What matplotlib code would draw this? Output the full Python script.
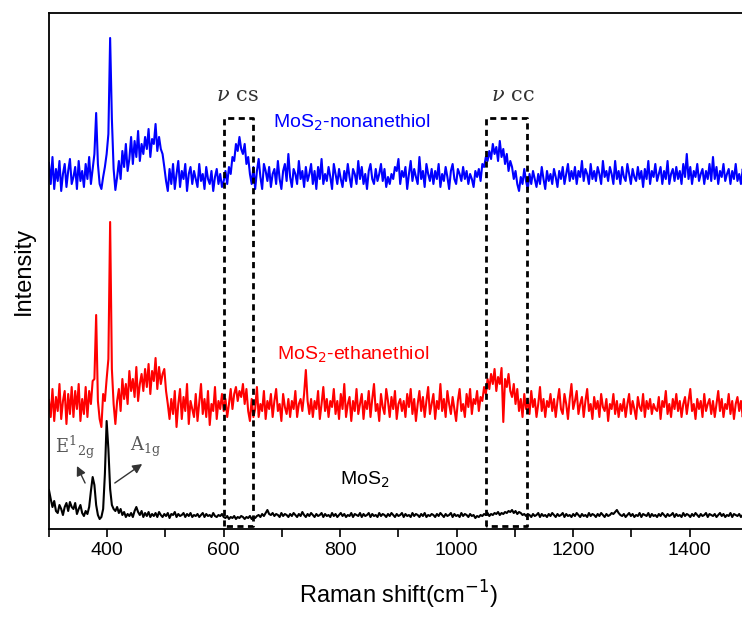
import numpy as np
import matplotlib.pyplot as plt
from matplotlib.ticker import MultipleLocator

# Raman shift axis (cm^-1), one point every 3 cm^-1
shift = np.arange(300, 1501, 3)

# intensities (arb. units, traces already offset)
mos2 = [
    39, 30, 22, 28, 18, 16, 24, 20, 14, 22, 26, 18, 27, 22, 20, 26, 15, 20, 24, 16,
    13, 18, 15, 22, 38, 52, 44, 24, 14, 10, 12, 20, 55, 108, 80, 40, 24, 20, 18, 22,
    16, 20, 14, 17, 12, 15, 13, 16, 12, 18, 22, 17, 14, 18, 12, 16, 13, 17, 12, 15,
    13, 16, 12, 17, 14, 12, 15, 13, 16, 11, 15, 14, 17, 12, 15, 13, 14, 16, 12, 15,
    13, 16, 12, 14, 13, 15, 12, 14, 16, 12, 15, 13, 14, 12, 16, 13, 12, 14, 13, 15,
    12, 11, 13, 10, 12, 11, 13, 10, 12, 11, 13, 12, 10, 12, 11, 13, 10, 12, 11, 13,
    14, 12, 15, 13, 16, 19, 15, 14, 16, 13, 15, 14, 12, 16, 13, 15, 14, 12, 15, 13,
    16, 14, 12, 15, 13, 17, 14, 12, 15, 13, 16, 14, 12, 15, 13, 14, 16, 12, 15, 13,
    14, 12, 16, 13, 15, 12, 14, 16, 13, 15, 12, 14, 13, 16, 12, 15, 14, 13, 16, 12,
    15, 13, 14, 16, 12, 15, 13, 14, 12, 16, 13, 15, 14, 12, 15, 13, 16, 14, 12, 15,
    13, 14, 16, 12, 15, 13, 14, 12, 16, 13, 15, 14, 12, 15, 13, 16, 12, 14, 13, 15,
    14, 12, 15, 13, 16, 14, 12, 15, 13, 14, 16, 12, 15, 13, 14, 12, 16, 13, 15, 14,
    12, 15, 13, 14, 11, 13, 12, 14, 13, 15, 14, 16, 13, 15, 14, 16, 15, 17, 14, 16,
    15, 17, 16, 18, 17, 19, 16, 18, 15, 17, 16, 14, 15, 13, 15, 14, 12, 15, 13, 14,
    16, 12, 15, 13, 14, 12, 15, 13, 16, 14, 12, 15, 13, 14, 16, 12, 15, 13, 14, 12,
    15, 13, 16, 14, 12, 15, 13, 14, 12, 16, 13, 15, 14, 12, 15, 13, 16, 14, 12, 15,
    13, 14, 16, 15, 17, 19, 16, 14, 13, 15, 12, 14, 16, 13, 15, 12, 14, 13, 16, 12,
    15, 14, 13, 16, 12, 15, 13, 14, 12, 15, 13, 16, 14, 12, 15, 13, 14, 16, 12, 15,
    13, 14, 12, 16, 13, 15, 14, 12, 15, 13, 16, 14, 12, 15, 13, 14, 16, 12, 15, 14,
    13, 15, 12, 14, 16, 13, 15, 12, 14, 13, 16, 12, 15, 14, 13, 15, 12, 14, 16, 13,
    14,
]
ethanethiol = [
    129, 112, 140, 108, 132, 118, 145, 110, 128, 138, 105, 135, 115, 142, 112, 138, 120, 145, 108, 130,
    115, 142, 112, 138, 125, 148, 150, 214, 128, 110, 102, 135, 128, 150, 170, 307, 160, 125, 105, 128,
    140, 118, 150, 130, 145, 125, 158, 138, 150, 132, 162, 128, 145, 155, 138, 160, 142, 165, 135, 158,
    148, 171, 140, 162, 145, 155, 160, 138, 125, 110, 130, 115, 138, 102, 125, 140, 110, 132, 118, 145,
    105, 128, 120, 112, 135, 108, 126, 145, 115, 130, 112, 138, 104, 125, 118, 142, 110, 128, 120, 135,
    118, 130, 112, 125, 140, 120, 135, 142, 128, 138, 132, 145, 125, 140, 118, 108, 130, 112, 120, 142,
    112, 125, 118, 138, 110, 128, 120, 135, 112, 128, 140, 118, 125, 108, 135, 122, 115, 130, 112, 128,
    120, 138, 112, 125, 130, 118, 135, 159, 128, 115, 130, 112, 128, 120, 138, 110, 125, 142, 118, 130,
    112, 128, 122, 140, 115, 128, 110, 135, 120, 145, 112, 125, 132, 108, 128, 118, 140, 115, 125, 135,
    110, 128, 120, 138, 112, 130, 145, 118, 125, 108, 135, 122, 115, 140, 128, 112, 132, 120, 138, 110,
    125, 130, 118, 128, 112, 135, 122, 140, 115, 130, 108, 125, 138, 118, 132, 112, 128, 142, 115, 125,
    135, 110, 128, 120, 145, 118, 130, 112, 138, 125, 115, 132, 120, 108, 128, 140, 118, 125, 112, 135,
    122, 140, 115, 130, 125, 138, 118, 132, 128, 142, 135, 150, 140, 155, 145, 160, 138, 152, 145, 161,
    107, 150, 142, 155, 138, 132, 145, 125, 140, 118, 130, 112, 135, 120, 128, 115, 138, 122, 130, 112,
    125, 142, 118, 130, 112, 128, 122, 135, 118, 130, 112, 128, 140, 120, 115, 135, 125, 110, 130, 145,
    120, 128, 138, 115, 125, 132, 112, 128, 140, 118, 125, 110, 132, 120, 128, 112, 135, 122, 118, 130,
    108, 125, 120, 135, 115, 128, 112, 125, 118, 130, 112, 125, 135, 115, 128, 120, 110, 132, 122, 118,
    135, 112, 128, 120, 130, 115, 125, 120, 118, 132, 110, 128, 122, 138, 115, 125, 112, 130, 120, 135,
    118, 128, 112, 125, 132, 115, 128, 140, 118, 125, 110, 130, 120, 128, 112, 135, 118, 125, 130, 115,
    128, 112, 125, 138, 118, 130, 112, 125, 120, 135, 115, 128, 110, 125, 132, 118, 128, 112, 125, 120,
    118,
]
nonanethiol = [
    366, 345, 372, 340, 360, 348, 368, 338, 355, 365, 342, 358, 370, 345, 352, 362, 340, 368, 348, 358,
    342, 365, 350, 372, 345, 360, 375, 416, 365, 345, 340, 352, 362, 375, 395, 491, 410, 360, 339, 352,
    368, 350, 378, 362, 385, 358, 370, 392, 365, 388, 372, 398, 368, 385, 375, 392, 380, 400, 372, 390,
    385, 405, 378, 392, 380, 375, 362, 348, 338, 360, 345, 365, 340, 355, 368, 342, 358, 350, 365, 338,
    355, 362, 345, 358, 350, 342, 365, 348, 355, 340, 362, 350, 345, 358, 338, 352, 360, 345, 355, 342,
    348, 358, 345, 362, 355, 372, 368, 385, 378, 392, 380, 375, 385, 365, 372, 355, 345, 362, 340, 358,
    370, 352, 340, 365, 358, 348, 362, 342, 355, 360, 345, 368, 350, 340, 358, 365, 348, 375, 352, 342,
    360, 355, 345, 368, 350, 358, 342, 362, 348, 355, 365, 345, 358, 340, 362, 350, 370, 345, 355, 348,
    362, 352, 340, 365, 355, 345, 360, 350, 342, 358, 348, 365, 352, 342, 360, 355, 345, 368, 350, 362,
    345, 355, 340, 358, 365, 350, 345, 360, 348, 355, 365, 348, 360, 342, 352, 345, 355, 350, 362, 358,
    370, 345, 358, 352, 362, 340, 355, 368, 348, 360, 352, 345, 372, 350, 358, 342, 365, 355, 348, 360,
    345, 358, 350, 365, 342, 355, 348, 362, 352, 340, 358, 365, 350, 345, 360, 355, 348, 362, 350, 358,
    345, 355, 350, 342, 358, 352, 360, 348, 365, 362, 372, 368, 378, 370, 385, 375, 382, 368, 388, 372,
    380, 365, 375, 358, 368, 362, 350, 358, 345, 338, 352, 345, 360, 348, 340, 355, 345, 358, 350, 342,
    355, 345, 362, 350, 340, 358, 348, 355, 345, 360, 352, 342, 358, 350, 362, 345, 355, 365, 348, 358,
    350, 362, 345, 358, 352, 368, 348, 360, 355, 345, 365, 350, 358, 348, 362, 355, 345, 368, 352, 358,
    348, 362, 355, 345, 368, 350, 358, 345, 362, 352, 348, 365, 355, 345, 360, 352, 348, 362, 350, 358,
    342, 360, 350, 368, 345, 358, 352, 365, 348, 355, 362, 345, 358, 350, 368, 345, 355, 360, 348, 362,
    350, 358, 345, 365, 352, 375, 350, 362, 345, 358, 352, 365, 348, 355, 360, 345, 358, 350, 365, 348,
    372, 350, 362, 345, 358, 352, 365, 348, 355, 360, 345, 358, 350, 365, 348, 355, 345, 360, 352, 350,
    355,
]
assert len(mos2) == len(ethanethiol) == len(nonanethiol) == len(shift)

# dashed boxes marking the C-S and C-C bands
box_cs = (600, 650)
box_cc = (1050, 1120)

plt.rcParams["font.family"] = ["Liberation Sans", "DejaVu Sans"]

fig = plt.figure(figsize=(7.42, 6.18), dpi=100)
ax = fig.add_axes([0.066, 0.144, 0.942, 0.835])

ax.plot(shift, nonanethiol, color="#0000ff", lw=1.5)
ax.plot(shift, ethanethiol, color="#ff0000", lw=1.5)
ax.plot(shift, mos2, color="black", lw=1.5)

for lo, hi in (box_cs, box_cc):
    ax.plot([lo, lo, hi, hi, lo], [3, 411, 411, 3, 3], color="black",
            lw=2, ls=(0, (2.2, 1.6)))

ax.text(624, 433, r"$\nu$ cs", fontsize=15, color="#333333", family="DejaVu Serif",
        math_fontfamily="dejavuserif", ha="center", va="center")
ax.text(1097, 433, r"$\nu$ cc", fontsize=15, color="#333333", family="DejaVu Serif",
        math_fontfamily="dejavuserif", ha="center", va="center")

ax.text(685, 406, r"MoS$_2$-nonanethiol", fontsize=14, color="#0000ff",
        va="center", ha="left")
ax.text(692, 174, r"MoS$_2$-ethanethiol", fontsize=14, color="#ff0000",
        va="center", ha="left")
ax.text(800, 49, r"MoS$_2$", fontsize=14, color="black", va="center", ha="left")

ax.text(345, 82, r"E$^{\mathrm{1}}$$_{\mathrm{2g}}$", fontsize=13, color="#555555",
        family="DejaVu Serif", math_fontfamily="dejavuserif", ha="center", va="center")
ax.text(465, 82, r"A$_{\mathrm{1g}}$", fontsize=13, color="#555555",
        family="DejaVu Serif", math_fontfamily="dejavuserif", ha="center", va="center")
arrow = dict(arrowstyle="-|>", color="#333333", lw=1, shrinkA=0, shrinkB=0,
             mutation_scale=14)
ax.annotate("", xy=(348, 63), xytext=(362, 46), arrowprops=arrow)
ax.annotate("", xy=(460, 65), xytext=(413, 46), arrowprops=arrow)

ax.set_xlim(300, 1500)
ax.set_ylim(0, 516)
ax.xaxis.set_major_locator(MultipleLocator(200))
ax.xaxis.set_minor_locator(MultipleLocator(100))
ax.set_xticks([400, 600, 800, 1000, 1200, 1400])
ax.tick_params(axis="x", which="both", direction="out", length=6, width=1.2,
               labelsize=14)
ax.set_yticks([])
for s in ax.spines.values():
    s.set_linewidth(1.3)

ax.set_xlabel(r"Raman shift(cm$^{-1}$)", fontsize=17, labelpad=14)
ax.set_ylabel("Intensity", fontsize=17, labelpad=10)

fig.savefig("out.png", dpi=100)
